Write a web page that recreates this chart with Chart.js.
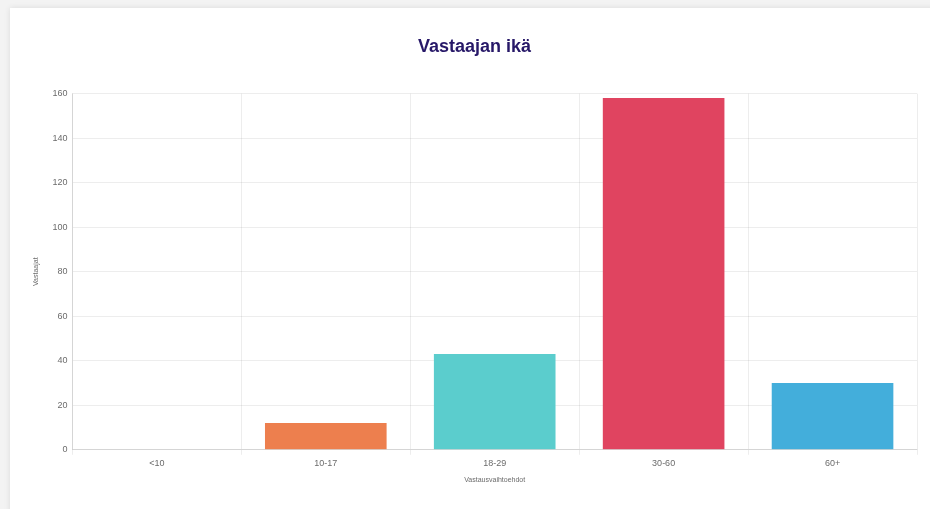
<!DOCTYPE html>
<html lang="fi">
<head>
<meta charset="utf-8">
<title>Vastaajan ikä</title>
<script src="https://cdn.jsdelivr.net/npm/chart.js@4.4.1/dist/chart.umd.min.js"></script>
<style>
  html, body { margin: 0; padding: 0; background: #f3f3f3; }
  body { width: 930px; height: 509px; position: relative; overflow: hidden; }
  .card {
    position: absolute; left: 10px; top: 8px; width: 940px; height: 520px;
    background: #fff; box-shadow: 0 0 6px rgba(0,0,0,0.10);
  }
  .chart-frame { position: absolute; left: 0; top: 0; width: 930px; height: 509px; }
</style>
</head>
<body>
<div class="card"></div>
<div class="chart-frame"><canvas id="chart-ika"></canvas></div>
<script>
// Vastaajien ikäjakauma
const CATEGORIES = ['<10', '10-17', '18-29', '30-60', '60+'];
const VALUES     = [0, 12, 43, 158, 30];
const BAR_COLORS = ['#ED7F4E', '#ED7F4E', '#5BCDCD', '#E04460', '#43AEDB'];
const Y_MAX  = 160;
const Y_STEP = 20;

const INK_TITLE = '#271868';
const TICK = '#6b6b6b';
const GRID = 'rgba(0,0,0,0.07)';
const SANS = '"Liberation Sans", Arial, sans-serif';

Chart.defaults.font.family = SANS;
Chart.defaults.color = TICK;

new Chart(document.getElementById('chart-ika'), {
  type: 'bar',
  data: {
    labels: CATEGORIES,
    datasets: [{
      label: 'Vastaajat',
      data: VALUES,
      backgroundColor: BAR_COLORS,
      borderWidth: 0,
    }]
  },
  options: {
    responsive: true, maintainAspectRatio: false,
    animation: false,
    layout: { padding: { left: 32, right: 13, top: 0, bottom: 25 } },
    plugins: {
      legend: { display: false },
      tooltip: { enabled: false },
      title: {
        display: true,
        text: 'Vastaajan ikä',
        color: INK_TITLE,
        font: { family: SANS, size: 18, weight: 'bold' },
        padding: { top: 36, bottom: 36 },
      },
    },
    scales: {
      x: {
        grid: { color: GRID, tickLength: 5 },
        border: { color: 'rgba(0,0,0,0.1)' },
        ticks: { font: { size: 9 }, color: TICK, padding: 3 },
        title: { display: true, text: 'Vastausvaihtoehdot', font: { size: 7 }, color: TICK, padding: { top: 4, bottom: 0 } },
      },
      y: {
        min: 0, max: Y_MAX,
        grid: { color: GRID, drawTicks: false },
        border: { color: 'rgba(0,0,0,0.1)' },
        ticks: { stepSize: Y_STEP, font: { size: 9 }, color: TICK, padding: 5 },
        title: { display: true, text: 'Vastaajat', font: { size: 7 }, color: TICK, padding: { top: 0, bottom: 7 } },
      }
    }
  }
});
</script>
</body>
</html>
